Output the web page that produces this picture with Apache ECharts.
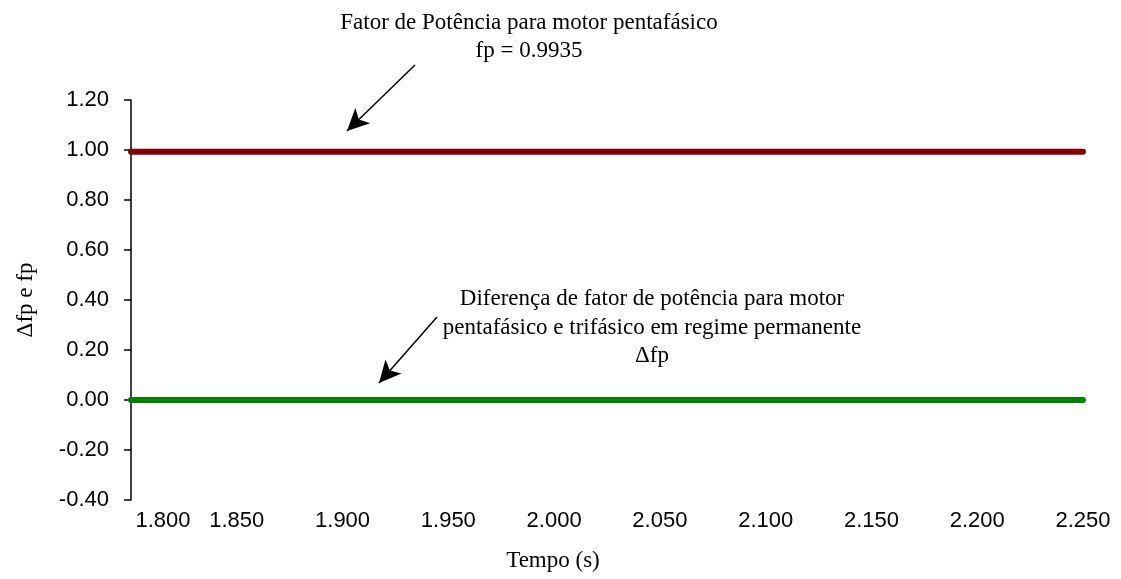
<!DOCTYPE html>
<html>
<head>
<meta charset="utf-8">
<script src="https://cdn.jsdelivr.net/npm/echarts@6/dist/echarts.min.js"></script>
<style>
  html, body { margin: 0; padding: 0; background: #fff; }
  #chart { width: 1121px; height: 579px; }
</style>
</head>
<body>
<div id="chart"></div>
<script>
// tempo (s)
const tempo = [1.80, 1.85, 1.90, 1.95, 2.00, 2.05, 2.10, 2.15, 2.20, 2.25];
// fator de potencia do motor pentafasico
const fpPenta = [0.9935, 0.9935, 0.9935, 0.9935, 0.9935, 0.9935, 0.9935, 0.9935, 0.9935, 0.9935];
// diferenca de fp (penta - tri)
const deltaFp = [0, 0, 0, 0, 0, 0, 0, 0, 0, 0];

const xTicks = ['1.800', '1.850', '1.900', '1.950', '2.000', '2.050', '2.100', '2.150', '2.200', '2.250'];

const serif = '"Liberation Serif", "Times New Roman", serif';
const sans = '"Liberation Sans", Arial, sans-serif';

const chart = echarts.init(document.getElementById('chart'));

const option = {
  animation: false,
  grid: { left: 131, right: 38, top: 100, bottom: 79 },
  xAxis: {
    type: 'value',
    min: 1.8,
    max: 2.25,
    interval: 0.05,
    axisLine: { lineStyle: { color: '#000', width: 1.5 } },
    axisTick: { show: false },
    splitLine: { show: false },
    axisLabel: {
      color: '#000',
      fontFamily: sans,
      fontSize: 22,
      margin: 10,
      formatter: function (v) {
        const i = Math.round((v - 1.8) / 0.05);
        // primeiro rotulo deslocado p/ direita como no excel
        if (i === 0) return '{first|' + xTicks[0] + '}';
        return xTicks[i];
      },
      rich: {
        first: { fontFamily: sans, fontSize: 22, color: '#000', padding: [0, 0, 0, 64] }
      }
    }
  },
  yAxis: {
    type: 'value',
    min: -0.4,
    max: 1.2,
    interval: 0.2,
    name: 'Δfp e fp',
    nameLocation: 'middle',
    nameGap: 94,
    nameTextStyle: { fontFamily: serif, fontSize: 23, color: '#000' },
    axisLine: { show: true, lineStyle: { color: '#000', width: 1.5 } },
    axisTick: { show: true, inside: false, length: 7, lineStyle: { color: '#000', width: 1.5 } },
    splitLine: { show: false },
    axisLabel: {
      color: '#000',
      fontFamily: sans,
      fontSize: 22,
      margin: 22,
      formatter: v => v.toFixed(2)
    }
  },
  series: [
    {
      name: 'fp',
      type: 'line',
      data: tempo.map((t, i) => [t, fpPenta[i]]),
      showSymbol: false,
      lineStyle: { color: '#800000', width: 6, cap: 'round' },
      markLine: {
        silent: true,
        symbol: ['none', 'arrow'],
        symbolSize: [16, 22],
        lineStyle: { color: '#000', width: 1.5, type: 'solid' },
        label: { show: false },
        data: [
          [{ x: 415, y: 65 }, { x: 347, y: 131 }],
          [{ x: 437, y: 317 }, { x: 379, y: 383 }]
        ]
      }
    },
    {
      name: 'dfp',
      type: 'line',
      data: tempo.map((t, i) => [t, deltaFp[i]]),
      showSymbol: false,
      lineStyle: { color: '#008000', width: 6, cap: 'round' }
    }
  ],
  graphic: [
    {
      type: 'text',
      x: 529, y: 9,
      style: {
        text: 'Fator de Potência para motor pentafásico\nfp = 0.9935',
        align: 'center',
        font: '23px ' + serif,
        lineHeight: 28,
        fill: '#000'
      }
    },
    {
      type: 'text',
      x: 652, y: 285,
      style: {
        text: 'Diferença de fator de potência para motor\npentafásico e trifásico em regime permanente\nΔfp',
        align: 'center',
        font: '23px ' + serif,
        lineHeight: 28.5,
        fill: '#000'
      }
    },
    {
      type: 'text',
      x: 553, y: 549,
      style: {
        text: 'Tempo (s)',
        align: 'center',
        font: '23px ' + serif,
        fill: '#000'
      }
    }
  ]
};

chart.setOption(option);
</script>
</body>
</html>
